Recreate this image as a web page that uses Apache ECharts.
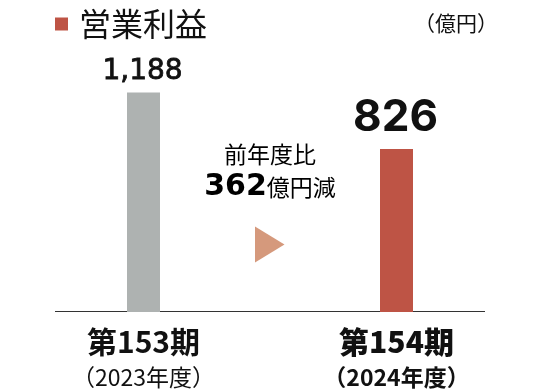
<!DOCTYPE html>
<html>
<head>
<meta charset="utf-8">
<script src="https://cdn.jsdelivr.net/npm/echarts@6/dist/echarts.min.js"></script>
<style>html,body{margin:0;padding:0;background:#fff;}#c{width:540px;height:390px;}</style>
</head>
<body>
<div id="c"></div>
<script>
// ---- data ----
const seriesName = '営業利益';
const unitLabel = '（億円）';
const periods = ['第153期', '第154期'];
const fiscalYears = ['2023年度', '2024年度'];
const values = [1188, 826];
const compareTitle = '前年度比';
const diffSuffix = '億円減';

// ---- styles ----
const barColors = ['#AEB2B1', '#BE5445'];
const arrowColor = '#D5997C';
const yMin = -220, yMax = 1500;
const jpFont = '"Noto Sans CJK JP", sans-serif';

const chart = echarts.init(document.getElementById('c'), null, {renderer: 'canvas'});

const labelStyles = [
  {fontSize: 28, fontWeight: 'normal', gap: 21, font: '"DejaVu Sans", sans-serif', border: 0.8},
  {fontSize: 44, fontWeight: 'bold', gap: 31, font: 'Inter, "Liberation Sans", sans-serif', border: 0}
];

const option = {
  animation: false,
  backgroundColor: '#fff',
  legend: {
    data: [seriesName],
    left: 50,
    top: 3,
    icon: 'rect',
    itemWidth: 13,
    itemHeight: 13,
    textStyle: {fontFamily: jpFont, fontSize: 32, color: '#111', padding: [5, 0, 0, 6]}
  },
  grid: {left: 17, right: 17, top: 44, bottom: 78},
  xAxis: {
    type: 'category',
    data: periods,
    axisLine: {show: false},
    axisTick: {show: false},
    axisLabel: {
      margin: 12,
      interval: 0,
      formatter: function (v, i) {
        return '{a' + i + '|' + v + '}\n{b' + i + '|（' + fiscalYears[i] + '）}';
      },
      rich: {
        a0: {fontFamily: jpFont, fontSize: 30, fontWeight: 'bold', color: '#111', lineHeight: 36},
        a1: {fontFamily: jpFont, fontSize: 30, fontWeight: 900, color: '#111', lineHeight: 36},
        b0: {fontFamily: jpFont, fontSize: 23, fontWeight: 'normal', color: '#111', lineHeight: 34},
        b1: {fontFamily: jpFont, fontSize: 23, fontWeight: 'bold', color: '#111', lineHeight: 34}
      }
    }
  },
  yAxis: {type: 'value', min: yMin, max: yMax, show: false, splitLine: {show: false}},
  series: [{
    name: seriesName,
    type: 'custom',
    itemStyle: {color: barColors[1]},
    data: values.map((v, i) => [i, v]),
    renderItem: function (params, api) {
      const i = api.value(0), v = api.value(1);
      const top = api.coord([i, v]);
      const base = api.coord([i, yMin]);
      const w = 33;
      const ls = labelStyles[i];
      return {
        type: 'group',
        children: [
          {type: 'rect', shape: {x: top[0] - w / 2, y: top[1], width: w, height: base[1] - top[1]},
           style: {fill: barColors[i]}},
          {type: 'text', x: top[0] - 1, y: top[1] - ls.gap,
           style: {text: v.toLocaleString('en-US'), fontFamily: ls.font, fontSize: ls.fontSize,
                   fontWeight: ls.fontWeight, fill: '#111', align: 'center', verticalAlign: 'middle',
                   stroke: ls.border ? '#111' : null, lineWidth: ls.border}}
        ]
      };
    }
  }],
  graphic: [
    {type: 'text', x: 498, y: 23,
     style: {text: unitLabel, fontFamily: jpFont, fontSize: 21, fill: '#111', align: 'right', verticalAlign: 'middle'}},
    {type: 'text', x: 270, y: 138,
     style: {
       text: '{a|' + compareTitle + '}\n{b|' + (values[0] - values[1]) + '}{c|' + diffSuffix + '}',
       align: 'center', verticalAlign: 'top',
       rich: {
         a: {fontFamily: jpFont, fontSize: 23, color: '#111', lineHeight: 33, align: 'center'},
         b: {fontFamily: '"DejaVu Sans", sans-serif', fontSize: 30, fontWeight: 'bold', color: '#111', lineHeight: 33},
         c: {fontFamily: jpFont, fontSize: 23, color: '#111', lineHeight: 33}
       }
     }},
    {type: 'polygon', shape: {points: [[255, 226.5], [284.5, 244.5], [255, 262.5]]}, style: {fill: arrowColor}}
  ]
};
chart.setOption(option);

// baseline drawn at the value-axis minimum
const y0 = chart.convertToPixel({yAxisIndex: 0}, yMin);
chart.setOption({graphic: option.graphic.concat([
  {type: 'line', shape: {x1: 55, y1: Math.round(y0) - 0.5, x2: 485, y2: Math.round(y0) - 0.5},
   style: {stroke: '#333', lineWidth: 1}}
])});
</script>
</body>
</html>
